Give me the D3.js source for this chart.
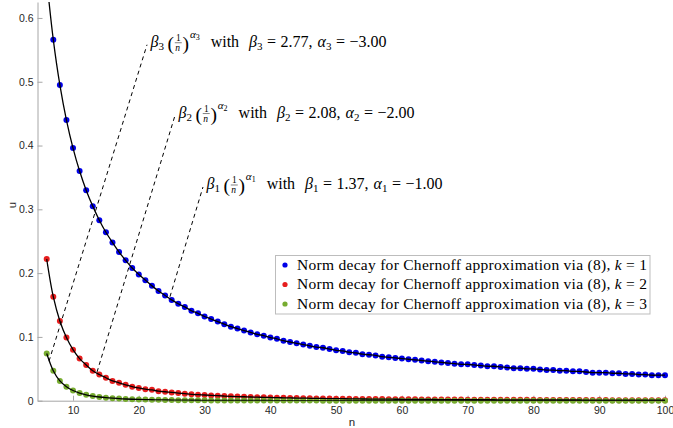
<!DOCTYPE html>
<html lang="en">
<head>
<meta charset="UTF-8">
<script src="https://cdnjs.cloudflare.com/ajax/libs/d3/7.8.5/d3.min.js"></script>
<style>
    body { margin: 0; background: #fff; }
    .tick text { font-family: 'Liberation Sans', Arial, sans-serif; font-size: 10.5px; fill: #262626; }
    .axis path, .axis line { stroke: #a6a6a6; }
    .serif text, text.serif { font-family: 'Liberation Serif', 'Times New Roman', serif; fill: #000; white-space: pre; }
</style>
</head>
<body>
<svg width="673" height="428"></svg>
<script>
    // n values 6..100
    const nValues = d3.range(6, 101)

    // k = 1 (blue)
    const normK1 = [
        0.660,0.566,0.495,0.440,0.396,0.360,0.330,0.305,0.283,0.264,
        0.248,0.233,0.220,0.208,0.198,0.189,0.180,0.172,0.165,0.158,
        0.152,0.147,0.141,0.137,0.132,0.128,0.124,0.120,0.116,0.113,
        0.110,0.107,0.104,0.102,0.099,0.097,0.094,0.092,0.090,0.088,
        0.086,0.084,0.083,0.081,0.079,0.078,0.076,0.075,0.073,0.072,
        0.071,0.069,0.068,0.067,0.066,0.065,0.064,0.063,0.062,0.061,
        0.060,0.059,0.058,0.057,0.057,0.056,0.055,0.054,0.054,0.053,
        0.052,0.051,0.051,0.050,0.050,0.049,0.048,0.048,0.047,0.047,
        0.046,0.046,0.045,0.044,0.044,0.044,0.043,0.043,0.042,0.042,
        0.041,0.041,0.040,0.040,0.040]
    // k = 2 (red)
    const normK2 = [
        0.222,0.163,0.125,0.099,0.080,0.066,0.056,0.047,0.041,0.036,
        0.031,0.028,0.025,0.022,0.020,0.018,0.017,0.015,0.014,0.013,
        0.012,0.011,0.010,0.0095,0.0089,0.0083,0.0078,0.0073,0.0069,0.0065,
        0.0062,0.0058,0.0055,0.0053,0.0050,0.0048,0.0045,0.0043,0.0041,0.0040,
        0.0038,0.0036,0.0035,0.0033,0.0032,0.0031,0.0030,0.0028,0.0027,0.0026,
        0.0026,0.0025,0.0024,0.0023,0.0022,0.0021,0.0021,0.0020,0.0020,0.0019,
        0.0018,0.0018,0.0017,0.0017,0.0016,0.0016,0.0015,0.0015,0.0015,0.0014,
        0.0014,0.0013,0.0013,0.0013,0.0013,0.0012,0.0012,0.0012,0.0011,0.0011,
        0.0011,0.0011,0.0010,0.0010,0.0010,0.0010,0.0009,0.0009,0.0009,0.0009,
        0.0009,0.0008,0.0008,0.0008,0.0008]
    // k = 3 (green)
    const normK3 = [
        0.074,0.047,0.031,0.022,0.016,0.012,0.0093,0.0073,0.0058,0.0047,
        0.0039,0.0033,0.0027,0.0023,0.0020,0.0017,0.0015,0.0013,0.0012,0.0010,
        0.0009,0.0008,0.0007,0.0007,0.0006,0.0005,0.0005,0.0004,0.0004,0.0004,
        0.0003,0.0003,0.0003,0.0003,0.0003,0.0002,0.0002,0.0002,0.0002,0.0002,
        0.0002,0.0002,0.0001,0.0001,0.0001,0.0001,0.0001,0.0001,0.0001,0.0001,
        0.0001,0.0001,0.0001,0.0001,0.0001,0.0001,0.0001,0.0001,0.0001,0.0001,
        0.0001,0.0001,0.0001,0.0001,0.0001,0.0001,0.0001,0.0001,0.0001,0.0001,
        0,0,0,0,0,0,0,0,0,0,
        0,0,0,0,0,0,0,0,0,0,
        0,0,0,0,0]

    const seriesColors = ['#0000e8', '#e61e1e', '#77ac30']
    const seriesValues = [normK1, normK2, normK3]
    const legendLabels = ['1', '2', '3']

    const xTicks = [10, 20, 30, 40, 50, 60, 70, 80, 90, 100]
    const yTicks = [0, 0.1, 0.2, 0.3, 0.4, 0.5, 0.6]

    // annotations: index, beta, alpha, start point on curve, end point (n, u)
    const annIndex = ['3', '2', '1']
    const annBeta = ['2.77', '2.08', '1.37']
    const annAlpha = ['\u22123.00', '\u22122.00', '\u22121.00']
    const annFrom = [[6.35, 0.062], [13.65, 0.045], [24.74, 0.163]]
    const annTo = [[21.25, 0.558], [25.5, 0.447], [29.76, 0.335]]

    const svg = d3.select('svg')
    const x = d3.scaleLinear().domain([4.6, 100]).range([37.5, 665])
    const y = d3.scaleLinear().domain([0, 0.625]).range([400.7, 2])

    svg.append('defs').append('clipPath').attr('id', 'plot')
        .append('rect')
        .attr('x', x.range()[0]).attr('y', y.range()[1])
        .attr('width', x.range()[1] - x.range()[0])
        .attr('height', y.range()[0] - y.range()[1])

    // axes
    svg.append('g')
        .attr('class', 'axis')
        .attr('transform', 'translate(0,' + y(0) + ')')
        .call(d3.axisBottom(x).tickValues(xTicks).tickSizeInner(-5).tickSizeOuter(0).tickPadding(6))
    svg.append('g')
        .attr('class', 'axis')
        .attr('transform', 'translate(' + x.range()[0] + ',0)')
        .call(d3.axisLeft(y).tickValues(yTicks).tickSizeInner(-5).tickSizeOuter(0).tickPadding(4)
            .tickFormat(d => d === 0 ? '0' : d3.format('.1f')(d)))

    svg.append('text')
        .attr('x', 352).attr('y', 426)
        .attr('text-anchor', 'middle')
        .style('font-family', "'Liberation Sans', Arial, sans-serif")
        .style('font-size', '11.5px').style('fill', '#262626')
        .text('n')
    svg.append('text')
        .attr('transform', 'translate(16,205) rotate(-90)')
        .attr('text-anchor', 'middle')
        .style('font-family', "'Liberation Sans', Arial, sans-serif")
        .style('font-size', '11.5px').style('fill', '#262626')
        .text('u')

    // dots
    seriesValues.forEach((vals, s) => {
        svg.append('g').selectAll('circle')
            .data(vals.map((v, i) => [nValues[i], v]).filter(d => d[1] <= 0.625))
            .enter()
            .append('circle')
            .attr('cx', d => x(d[0]))
            .attr('cy', d => y(d[1]))
            .attr('r', 3)
            .attr('fill', seriesColors[s])
    })

    // fitted curves
    const line = d3.line().x(d => x(d[0])).y(d => y(d[1])).curve(d3.curveCatmullRom)
    seriesValues.forEach((vals) => {
        svg.append('path')
            .attr('clip-path', 'url(#plot)')
            .attr('d', line(vals.map((v, i) => [nValues[i], v])))
            .attr('fill', 'none')
            .attr('stroke', '#000')
            .attr('stroke-width', 1.3)
    })

    // annotations (LaTeX-like layout built from pieces)
    function put(g, str, px, py, size, italic) {
        const t = g.append('text')
            .attr('x', px).attr('y', py)
            .style('font-size', size + 'px')
            .style('font-style', italic ? 'italic' : 'normal')
            .text(str)
        return t.node().getComputedTextLength()
    }
    const fs = 16
    annIndex.forEach((k, i) => {
        svg.append('line')
            .attr('x1', x(annFrom[i][0])).attr('y1', y(annFrom[i][1]))
            .attr('x2', x(annTo[i][0])).attr('y2', y(annTo[i][1]))
            .attr('stroke', '#000').attr('stroke-width', 1)
            .attr('stroke-dasharray', '4,3.5')

        const g = svg.append('g').attr('class', 'serif')
            .attr('transform', 'translate(' + (x(annTo[i][0]) + 3.5) + ',' + (y(annTo[i][1]) + 2) + ')')
        let cx = 0
        cx += put(g, '\u03b2', cx, 0, fs, true)
        cx += put(g, k, cx, 3.2, 11, false) + 3.5
        cx += put(g, '(', cx, 3.5, 19.5, false) + 0.8
        const fw = 7
        put(g, '1', cx + 1.2, -5.8, 9.5, false)
        g.append('line').attr('x1', cx).attr('x2', cx + fw).attr('y1', -4).attr('y2', -4)
            .attr('stroke', '#000').attr('stroke-width', 0.5)
        put(g, 'n', cx + 0.5, 4, 9.5, true)
        cx += fw + 0.8
        cx += put(g, ')', cx, 3.5, 19.5, false) + 0.8
        cx += put(g, '\u03b1', cx, -8.5, 11, true)
        cx += put(g, k, cx, -6.5, 8, false) + 11
        cx += put(g, 'with', cx, 0, fs, false) + 10
        cx += put(g, '\u03b2', cx, 0, fs, true)
        cx += put(g, k, cx, 3.2, 11, false) + 4.5
        cx += put(g, '=', cx, 0, fs, false) + 4.5
        cx += put(g, annBeta[i] + ',', cx, 0, fs, false) + 5
        cx += put(g, '\u03b1', cx, 0, fs, true)
        cx += put(g, k, cx, 3.2, 11, false) + 4.5
        cx += put(g, '=', cx, 0, fs, false) + 4.5
        cx += put(g, annAlpha[i], cx, 0, fs, false)
    })

    // legend
    const legend = svg.append('g').attr('class', 'serif')
    legend.append('rect')
        .attr('x', 275.5).attr('y', 255.5)
        .attr('width', 374.5).attr('height', 58.5)
        .attr('fill', '#fff').attr('stroke', '#bdbdbd').attr('stroke-width', 1)
    legendLabels.forEach((k, i) => {
        const ly = 265 + i * 19.5
        legend.append('circle')
            .attr('cx', 285).attr('cy', ly).attr('r', 2.6)
            .attr('fill', seriesColors[i])
        const t = legend.append('text')
            .attr('x', 297).attr('y', ly + 4.8)
            .attr('textLength', 350)
            .attr('lengthAdjust', 'spacing')
            .style('font-size', '15.5px')
        t.append('tspan').text('Norm decay for Chernoff approximation via (8), ')
        t.append('tspan').style('font-style', 'italic').text('k')
        t.append('tspan').text(' = ' + k)
    })
</script>
</body>
</html>
